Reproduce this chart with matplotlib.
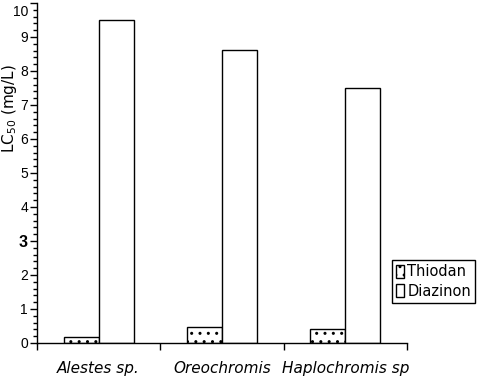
import matplotlib
matplotlib.use("Agg")
import matplotlib.pyplot as plt
from matplotlib.ticker import MultipleLocator
from matplotlib.transforms import ScaledTranslation

plt.rcParams['font.family'] = ['DejaVu Sans']
plt.rcParams['mathtext.default'] = 'regular'
plt.rcParams['hatch.linewidth'] = 1.0

# data
species = ['Alestes sp.', 'Oreochromis', 'Haplochromis sp']
thiodan = [0.17, 0.47, 0.41]
diazinon = [9.5, 8.62, 7.5]

fig = plt.figure(figsize=(4.8, 3.77), dpi=100)
ax = fig.add_axes([37 / 480, 34 / 377, 370 / 480, 340 / 377])

w = 0.285
x = list(range(len(species)))
ax.bar([i - w / 2 for i in x], thiodan, w, color='white', edgecolor='black',
       hatch='..', linewidth=1.0, label='Thiodan')
ax.bar([i + w / 2 for i in x], diazinon, w, color='white', edgecolor='black',
       linewidth=1.0, label='Diazinon')

ax.set_xlim(-0.5, 2.5)
ax.set_ylim(0, 10)
ax.spines['top'].set_visible(False)
ax.spines['right'].set_visible(False)
for s in ('left', 'bottom'):
    ax.spines[s].set_linewidth(1.0)

# x: ticks between groups, labels centred without tick marks
ax.set_xticks([-0.5, 0.5, 1.5, 2.5])
ax.set_xticklabels([])
ax.set_xticks(x, species, minor=True)
ax.tick_params(axis='x', which='major', length=5, width=1.0, direction='out')
ax.tick_params(axis='x', which='minor', length=0, pad=13, labelsize=11)
for t in ax.get_xticklabels(minor=True):
    t.set_fontstyle('italic')

ax.yaxis.set_major_locator(MultipleLocator(1))
ax.yaxis.set_minor_locator(MultipleLocator(0.2))
ax.tick_params(axis='y', which='major', length=5, width=1.0, pad=1.5)
ax.tick_params(axis='y', which='minor', length=3, width=1.0)
fig.canvas.draw()
for t in ax.get_yticklabels():
    t.set_fontfamily('Liberation Sans')
    t.set_fontsize(10)
    if t.get_text() == '3':
        t.set_fontweight('bold')
        t.set_fontsize(11.5)
    if t.get_text() == '10':
        t.set_transform(t.get_transform() + ScaledTranslation(0, -8 / 100, fig.dpi_scale_trans))

ax.set_ylabel('LC$_{50}$ (mg/L)', fontsize=11)
ax.yaxis.set_label_coords(-0.048, 0.69)

leg = ax.legend(loc='upper left', bbox_to_anchor=(392 / 480, 1 - 260 / 377),
                bbox_transform=fig.transFigure, borderaxespad=0, fancybox=False,
                edgecolor='black', fontsize=10.5, handlelength=0.55, handleheight=1.0,
                handletextpad=0.2, borderpad=0.3, labelspacing=0.3)
leg.get_frame().set_linewidth(1.0)
leg.get_frame().set_alpha(1)

fig.savefig('out.png', dpi=100)
